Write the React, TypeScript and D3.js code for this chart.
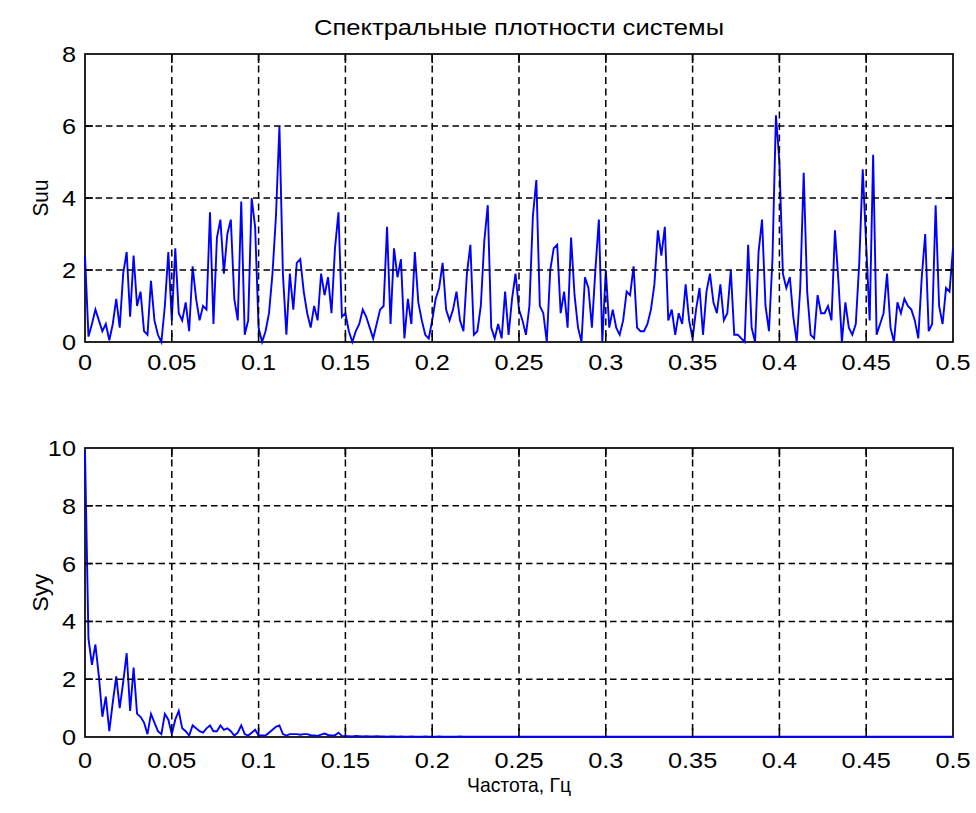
import React from 'react';
import * as d3 from 'd3';

// Frequency grid spacing of the spectral estimates (Hz)
const freqStep = 0.002;

// Input spectral density Suu, one value per frequency bin from 0 to 0.5 Hz
const suuValues = [
  2.4, 0.15, 0.5, 0.9, 0.6, 0.3, 0.5, 0.05, 0.5, 1.2, 0.4, 1.9, 2.5, 0.7, 2.4, 1.0, 1.4, 0.3, 0.2, 1.7, 0.6, 0.2, 0.0, 1.0, 2.5,
  0.6, 2.6, 0.8, 0.6, 1.1, 0.3, 2.1, 1.2, 0.6, 1.0, 0.9, 3.6, 0.5, 2.9, 3.4, 1.9, 3.0, 3.4, 1.2, 0.6, 3.9, 0.2, 0.6, 4.0, 3.2,
  0.4, 0.0, 0.3, 0.8, 1.9, 3.5, 6.0, 1.9, 0.2, 1.9, 0.9, 2.2, 2.3, 1.4, 0.8, 0.4, 1.0, 0.6, 1.9, 1.3, 1.8, 0.8, 2.6, 3.6, 0.7,
  0.8, 0.3, 0.0, 0.3, 0.5, 0.9, 0.7, 0.4, 0.1, 0.5, 0.9, 1.0, 3.2, 0.5, 2.6, 1.8, 2.3, 0.1, 1.2, 0.5, 2.5, 1.1, 0.6, 0.2, 0.1,
  0.6, 1.2, 1.5, 2.2, 0.9, 0.6, 0.9, 1.4, 0.6, 0.3, 1.9, 2.7, 0.2, 0.3, 1.0, 2.8, 3.8, 0.4, 0.1, 0.5, 0.1, 1.4, 0.2, 1.2, 1.9,
  0.9, 0.6, 0.2, 1.0, 3.5, 4.5, 1.0, 0.8, 0.0, 2.0, 2.6, 2.7, 0.8, 1.4, 0.4, 2.9, 1.3, 0.4, 0.0, 1.8, 1.5, 0.4, 2.0, 3.4, 0.0,
  2.0, 0.4, 0.9, 0.4, 0.2, 0.6, 1.4, 1.3, 2.1, 0.4, 0.3, 0.3, 0.5, 0.9, 1.6, 3.1, 2.4, 3.2, 0.6, 0.9, 0.2, 0.8, 0.5, 1.6, 0.6,
  0.1, 0.9, 1.5, 0.2, 1.4, 1.9, 1.1, 0.8, 1.6, 0.6, 0.8, 2.0, 0.2, 0.2, 0.1, 0.0, 2.7, 0.4, 0.0, 2.5, 3.4, 1.0, 0.3, 2.3, 6.3,
  5.0, 1.9, 1.5, 1.8, 0.7, 0.0, 1.5, 4.7, 1.4, 0.2, 0.1, 1.3, 0.8, 0.8, 1.0, 0.6, 3.1, 1.7, 0.0, 1.1, 0.4, 0.2, 0.5, 2.2, 4.8,
  2.7, 0.6, 5.2, 0.2, 0.5, 0.8, 1.9, 0.4, 0.0, 1.1, 0.8, 1.2, 1.0, 0.9, 0.6, 0.1, 1.8, 3.0, 0.3, 0.5, 3.8, 1.0, 0.5, 1.5, 1.4,
  2.6,
];

// Output spectral density Syy, same frequency bins
const syyValues = [
  9.9, 3.4, 2.5, 3.2, 2.1, 0.7, 1.4, 0.2, 1.2, 2.1, 1.0, 1.9, 2.9, 0.9, 2.4, 0.8, 0.7, 0.5, 0.1, 0.8, 0.5, 0.2, 0.1, 0.8, 0.6,
  0.1, 0.6, 0.9, 0.3, 0.2, 0.05, 0.4, 0.3, 0.2, 0.15, 0.3, 0.4, 0.2, 0.2, 0.4, 0.25, 0.3, 0.2, 0.05, 0.15, 0.4, 0.1, 0.05, 0.15, 0.25,
  0.05, 0.05, 0.05, 0.15, 0.25, 0.35, 0.4, 0.1, 0.05, 0.1, 0.1, 0.1, 0.08, 0.1, 0.1, 0.06, 0.05, 0.04, 0.08, 0.12, 0.07, 0.05, 0.06, 0.15, 0.04,
  0.03, 0.03, 0.02, 0.04, 0.03, 0.02, 0.03, 0.02, 0.02, 0.03, 0.02, 0.02, 0.01, 0.02, 0.02, 0.01, 0.02, 0.01, 0.01, 0.02, 0.01, 0.01, 0.01, 0.02, 0.01,
  0.01, 0.01, 0.02, 0.01, 0.01, 0.01, 0.01, 0.01, 0.02, 0.01, 0.01, 0.01, 0.01, 0.01, 0.01, 0.01, 0.01, 0.01, 0.01, 0.01, 0.01, 0.01, 0.01, 0.01, 0.01,
  0.01, 0.01, 0.01, 0.01, 0.01, 0.01, 0.01, 0.01, 0.01, 0.01, 0.01, 0.01, 0.01, 0.01, 0.01, 0.01, 0.01, 0.01, 0.01, 0.01, 0.01, 0.01, 0.01, 0.01, 0.01,
  0.01, 0.01, 0.01, 0.01, 0.01, 0.01, 0.01, 0.01, 0.01, 0.01, 0.01, 0.01, 0.01, 0.01, 0.01, 0.01, 0.01, 0.01, 0.01, 0.01, 0.01, 0.01, 0.01, 0.01, 0.01,
  0.01, 0.01, 0.01, 0.01, 0.01, 0.01, 0.01, 0.01, 0.01, 0.01, 0.01, 0.01, 0.01, 0.01, 0.01, 0.01, 0.01, 0.01, 0.01, 0.01, 0.01, 0.01, 0.01, 0.01, 0.01,
  0.01, 0.01, 0.01, 0.01, 0.01, 0.01, 0.01, 0.01, 0.01, 0.01, 0.01, 0.01, 0.01, 0.01, 0.01, 0.01, 0.01, 0.01, 0.01, 0.01, 0.01, 0.01, 0.01, 0.01, 0.01,
  0.01, 0.01, 0.01, 0.01, 0.01, 0.01, 0.01, 0.01, 0.01, 0.01, 0.01, 0.01, 0.01, 0.01, 0.01, 0.01, 0.01, 0.01, 0.01, 0.01, 0.01, 0.01, 0.01, 0.01, 0.01,
  0.01,
];

const xTicks = [0, 0.05, 0.1, 0.15, 0.2, 0.25, 0.3, 0.35, 0.4, 0.45, 0.5];
const xTickLabels = ['0', '0.05', '0.1', '0.15', '0.2', '0.25', '0.3', '0.35', '0.4', '0.45', '0.5'];
const suuTicks = [0, 2, 4, 6, 8];
const syyTicks = [0, 2, 4, 6, 8, 10];

const titleText = 'Спектральные плотности системы';
const xLabelText = 'Частота, Гц';
const suuLabel = 'Suu';
const syyLabel = 'Syy';

const FONT = '"Liberation Sans", Arial, Helvetica, sans-serif';
const LEFT = 85;
const RIGHT = 953;
const TICK_FS = 22;
const TICK_SX = 1.15;

type PanelProps = {
  top: number;
  bottom: number;
  yMax: number;
  yTicks: number[];
  values: number[];
  label: string;
  labelLen: number;
  tickLabelOffset: number;
};

function Panel({ top, bottom, yMax, yTicks, values, label, labelLen, tickLabelOffset }: PanelProps) {
  const x = d3.scaleLinear().domain([0, 0.5]).range([LEFT, RIGHT]);
  const y = d3.scaleLinear().domain([0, yMax]).range([bottom, top]);
  const line = d3
    .line<number>()
    .x((_, i) => x(i * freqStep))
    .y((d) => y(d));
  const path = line(values) || '';
  const innerX = xTicks.filter((t) => t > 0 && t < 0.5);
  const innerY = yTicks.filter((t) => t > 0 && t < yMax);
  const midY = (top + bottom) / 2;

  return (
    <g>
      <rect x={LEFT} y={top} width={RIGHT - LEFT} height={bottom - top} fill="#fff" stroke="#000" strokeWidth={1.7} />
      {/* inner tick marks */}
      {innerX.map((t) => (
        <g key={`xt${t}`}>
          <line x1={x(t)} x2={x(t)} y1={bottom} y2={bottom - 9} stroke="#000" strokeWidth={1.6} />
          <line x1={x(t)} x2={x(t)} y1={top} y2={top + 9} stroke="#000" strokeWidth={1.6} />
        </g>
      ))}
      {innerY.map((t) => (
        <g key={`yt${t}`}>
          <line x1={LEFT} x2={LEFT + 8} y1={y(t)} y2={y(t)} stroke="#000" strokeWidth={1.6} />
          <line x1={RIGHT} x2={RIGHT - 8} y1={y(t)} y2={y(t)} stroke="#000" strokeWidth={1.6} />
        </g>
      ))}
      {/* spectrum trace */}
      <path d={path} fill="none" stroke="#0000ff" strokeWidth={1.9} strokeLinejoin="miter" />
      {/* dashed grid */}
      {innerX.map((t) => (
        <line key={`gx${t}`} x1={x(t)} x2={x(t)} y1={top} y2={bottom} stroke="#000" strokeWidth={1.5} strokeDasharray="7 4.5" />
      ))}
      {innerY.map((t) => (
        <line key={`gy${t}`} x1={LEFT} x2={RIGHT} y1={y(t)} y2={y(t)} stroke="#000" strokeWidth={1.5} strokeDasharray="6.5 4" />
      ))}
      {/* tick labels */}
      {xTicks.map((t, i) => (
        <text
          key={`xl${t}`}
          transform={`translate(${x(t)},${bottom + tickLabelOffset}) scale(${TICK_SX},1)`}
          textAnchor="middle"
          fontFamily={FONT}
          fontSize={TICK_FS}
          fill="#000"
        >
          {xTickLabels[i]}
        </text>
      ))}
      {yTicks.map((t) => (
        <text
          key={`yl${t}`}
          transform={`translate(${LEFT - 9},${y(t) + 8}) scale(${TICK_SX},1)`}
          textAnchor="end"
          fontFamily={FONT}
          fontSize={TICK_FS}
          fill="#000"
        >
          {t}
        </text>
      ))}
      <text
        transform={`translate(48,${midY}) rotate(-90)`}
        textAnchor="middle"
        fontFamily={FONT}
        fontSize={22}
        textLength={labelLen}
        lengthAdjust="spacingAndGlyphs"
        fill="#000"
      >
        {label}
      </text>
    </g>
  );
}

export default function App() {
  return (
    <svg
      width={976}
      height={813}
      viewBox="0 0 976 813"
      style={{ position: 'absolute', left: 0, top: 0, background: '#fff', display: 'block' }}
    >
      <rect x={0} y={0} width={976} height={813} fill="#fff" />
      <text
        x={(LEFT + RIGHT) / 2}
        y={35}
        textAnchor="middle"
        fontFamily={FONT}
        fontSize={22}
        textLength={410}
        lengthAdjust="spacingAndGlyphs"
        fill="#000"
      >
        {titleText}
      </text>
      <Panel top={54} bottom={342} yMax={8} yTicks={suuTicks} values={suuValues} label={suuLabel} labelLen={37} tickLabelOffset={28} />
      <Panel top={448} bottom={737} yMax={10} yTicks={syyTicks} values={syyValues} label={syyLabel} labelLen={38} tickLabelOffset={31} />
      <text
        x={(LEFT + RIGHT) / 2}
        y={792}
        textAnchor="middle"
        fontFamily={FONT}
        fontSize={21}
        textLength={104}
        lengthAdjust="spacingAndGlyphs"
        fill="#000"
      >
        {xLabelText}
      </text>
    </svg>
  );
}
